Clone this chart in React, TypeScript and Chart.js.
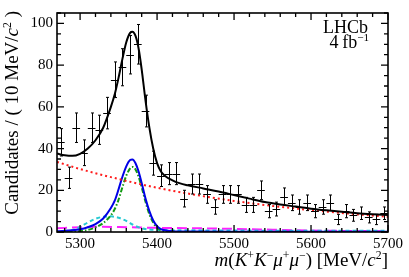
import React, { useEffect, useRef } from "react";
import { Chart, registerables } from "chart.js";
Chart.register(...registerables);

// ---- data ----
const massBins = [5275, 5285, 5295, 5305, 5315, 5325, 5335, 5345, 5355, 5365, 5375, 5385, 5395, 5405, 5415, 5425, 5435, 5445, 5455, 5465, 5475, 5485, 5495, 5505, 5515, 5525, 5535, 5545, 5555, 5565, 5575, 5585, 5595, 5605, 5615, 5625, 5635, 5645, 5655, 5665, 5675, 5685, 5695];
const candidates = [43, 26, 50, 38, 50, 49, 57, 73, 79, 85, 90, 58, 33, 27, 28, 28, 16, 23, 23, 18, 12, 18, 18, 18, 13, 13, 20, 10, 11, 17, 14, 12, 14, 10, 12, 14, 6, 10, 8, 9, 7, 6, 9];

const totalX = [5270, 5280, 5290, 5300, 5310, 5320, 5330, 5340, 5345, 5350, 5355, 5360, 5365, 5368, 5372, 5376, 5380, 5385, 5390, 5395, 5400, 5405, 5410, 5420, 5430, 5440, 5460, 5480, 5500, 5520, 5540, 5560, 5580, 5600, 5620, 5640, 5660, 5680, 5700];
const totalY = [37.6, 36.8, 36.5, 37.5, 40, 44, 50, 60, 66, 74, 83, 91, 95.5, 96, 94, 88, 78, 63, 50, 40, 33, 29, 27, 24.8, 23.3, 22.4, 20.9, 19.4, 17.7, 16, 14.4, 13.2, 12.2, 11.2, 10.4, 9.7, 9.0, 8.5, 8.1];

const bkgX = [5270, 5300, 5350, 5400, 5450, 5500, 5550, 5600, 5650, 5700];
const bkgY = [33.6, 30.2, 25.4, 21.2, 17.8, 14.9, 12.5, 10.5, 8.8, 7.3];

const sigX = [5270, 5290, 5300, 5310, 5320, 5330, 5340, 5345, 5350, 5355, 5360, 5365, 5368, 5372, 5376, 5380, 5385, 5390, 5395, 5400, 5405, 5410, 5420, 5450, 5500, 5700];
const sigY = [0.3, 0.8, 1.3, 2.3, 3.8, 6.5, 11.5, 15, 20.5, 26.5, 31.5, 34.5, 34.8, 33, 29, 23.5, 16, 10, 5.5, 2.8, 1.4, 0.8, 0.4, 0.2, 0.1, 0.1];

const greenX = [5270, 5300, 5310, 5320, 5330, 5340, 5345, 5350, 5355, 5360, 5365, 5368, 5372, 5376, 5380, 5385, 5390, 5395, 5400, 5405, 5410, 5420, 5450, 5700];
const greenY = [0, 0.4, 1, 2.2, 4.3, 8, 11, 15.5, 21.5, 27, 30.5, 31.2, 30, 26.5, 21.5, 14.5, 8.5, 4.5, 2, 0.9, 0.4, 0.1, 0, 0];

const cyanX = [5270, 5280, 5290, 5300, 5310, 5320, 5330, 5340, 5350, 5360, 5370, 5380, 5390, 5400, 5450, 5500, 5600, 5700];
const cyanY = [0.1, 0.3, 1, 2.5, 4.5, 6.3, 7.3, 7.5, 6.8, 5.3, 3.2, 1.8, 1.2, 1, 0.8, 0.7, 0.6, 0.6];

const magX = [5270, 5300, 5330, 5360, 5400, 5450, 5500, 5550, 5600, 5650, 5700];
const magY = [1.8, 2.3, 2.5, 2.3, 2.0, 1.8, 1.5, 1.1, 0.7, 0.5, 0.4];

const xTickValues = [5300, 5400, 5500, 5600, 5700];
const yTickValues = [0, 20, 40, 60, 80, 100];

const SERIF = "'Liberation Serif', 'Times New Roman', serif";

const pts = (xs: number[], ys: number[]) => xs.map((x, i) => ({ x, y: ys[i] }));

type Seg = { t: string; it?: boolean; sup?: boolean };

function segFont(s: Seg, size: number) {
  const sz = s.sup ? size * 0.62 : size;
  return `${s.it ? "italic " : ""}${sz}px ${SERIF}`;
}
function richWidth(ctx: CanvasRenderingContext2D, segs: Seg[], size: number) {
  let w = 0;
  for (const s of segs) {
    ctx.font = segFont(s, size);
    w += ctx.measureText(s.t).width;
  }
  return w;
}
function drawRichRight(ctx: CanvasRenderingContext2D, segs: Seg[], xr: number, y: number, size: number) {
  const w = richWidth(ctx, segs, size);
  let x = xr - w;
  ctx.textAlign = "left";
  ctx.textBaseline = "alphabetic";
  for (const s of segs) {
    ctx.font = segFont(s, size);
    ctx.fillText(s.t, x, s.sup ? y - size * 0.38 : y);
    x += ctx.measureText(s.t).width;
  }
}

const lhcbPlugin = {
  id: "lhcbDeco",
  afterDatasetDraw(chart: any, args: any) {
    if (args.meta._dataset.label !== "Data") return;
    const { ctx } = chart;
    const xs = chart.scales.x;
    const ys = chart.scales.y;
    ctx.save();
    ctx.strokeStyle = "#000";
    ctx.lineWidth = 1;
    ctx.beginPath();
    massBins.forEach((m, i) => {
      const n = candidates[i];
      const e = Math.sqrt(n);
      const px = Math.round(xs.getPixelForValue(m)) + 0.5;
      const py = Math.round(ys.getPixelForValue(n)) + 0.5;
      const y1 = ys.getPixelForValue(n + e);
      const y2 = ys.getPixelForValue(Math.max(0, n - e));
      ctx.moveTo(px, y1);
      ctx.lineTo(px, y2);
      ctx.moveTo(px - 1.5, y1);
      ctx.lineTo(px + 1.5, y1);
      ctx.moveTo(px - 1.5, y2);
      ctx.lineTo(px + 1.5, y2);
      ctx.moveTo(xs.getPixelForValue(m - 5), py);
      ctx.lineTo(xs.getPixelForValue(m + 5), py);
    });
    ctx.stroke();
    ctx.restore();
  },
  afterDraw(chart: any) {
    const { ctx, chartArea } = chart;
    const { left, right, top, bottom } = chartArea;
    const xs = chart.scales.x;
    const ys = chart.scales.y;
    ctx.save();
    ctx.strokeStyle = "#000";
    ctx.fillStyle = "#000";
    // ticks pointing inward
    ctx.lineWidth = 1.3;
    ctx.beginPath();
    for (let v = 5280; v <= 5700; v += 20) {
      const px = xs.getPixelForValue(v);
      const len = v % 100 === 0 ? 7 : 4;
      ctx.moveTo(px, bottom);
      ctx.lineTo(px, bottom - len);
      ctx.moveTo(px, top);
      ctx.lineTo(px, top + len);
    }
    for (let v = 0; v <= 105; v += 5) {
      const py = ys.getPixelForValue(v);
      const len = v % 20 === 0 ? 7 : 4;
      ctx.moveTo(left, py);
      ctx.lineTo(left + len, py);
      ctx.moveTo(right, py);
      ctx.lineTo(right - len, py);
    }
    ctx.stroke();
    // frame
    ctx.lineWidth = 1.6;
    ctx.strokeRect(left, top, right - left, bottom - top);

    // x title
    const titleSize = 19;
    drawRichRight(
      ctx,
      [
        { t: "m", it: true },
        { t: "(" },
        { t: "K", it: true },
        { t: "+", sup: true },
        { t: "K", it: true },
        { t: "\u2212", sup: true },
        { t: "\u03bc", it: true },
        { t: "+", sup: true },
        { t: "\u03bc", it: true },
        { t: "\u2212", sup: true },
        { t: ") [MeV/" },
        { t: "c", it: true },
        { t: "2", sup: true },
        { t: "]" },
      ],
      right,
      266,
      titleSize
    );

    // y title (rotated)
    ctx.save();
    ctx.translate(18, 11);
    ctx.rotate(-Math.PI / 2);
    drawRichRight(
      ctx,
      [
        { t: "Candidates / ( 10 MeV/" },
        { t: "c", it: true },
        { t: "2", sup: true },
        { t: " )" },
      ],
      0,
      0,
      titleSize
    );
    ctx.restore();

    // LHCb label
    drawRichRight(ctx, [{ t: "LHCb" }], 368, 33, 18);
    drawRichRight(ctx, [{ t: "4\u2009fb" }, { t: "\u22121", sup: true }], 369, 48, 18);
    ctx.restore();
  },
};

export default function App() {
  const ref = useRef<HTMLCanvasElement | null>(null);
  useEffect(() => {
    if (!ref.current) return;
    const line = (label: string, data: any, color: string, dash: number[], width: number, order: number) => ({
      type: "line" as const,
      label,
      data,
      borderColor: color,
      borderWidth: width,
      borderDash: dash,
      pointRadius: 0,
      fill: false,
      cubicInterpolationMode: "monotone" as const,
      order,
    });
    const chart = new Chart(ref.current, {
      type: "scatter",
      data: {
        datasets: [
          line("Total fit", pts(totalX, totalY), "#000000", [], 2, 0),
          {
            type: "scatter",
            label: "Data",
            data: pts(massBins, candidates),
            pointRadius: 0,
            showLine: false,
            order: 1,
          } as any,
          line("Combinatorial", pts(bkgX, bkgY), "#ff1a1a", [2, 3], 2, 2),
          line("Signal", pts(sigX, sigY), "#0000e6", [], 2, 3),
          line("Component", pts(greenX, greenY), "#129a12", [5, 2, 1.5, 2], 2, 4),
          line("Partially reco.", pts(cyanX, cyanY), "#27c9d2", [4, 3], 2, 5),
          line("Peaking bkg", pts(magX, magY), "#ff20ff", [10, 5], 2, 6),
        ],
      },
      options: {
        animation: false,
        responsive: false,
        devicePixelRatio: 1,
        events: [],
        layout: { padding: { top: 13, right: 21, left: 0, bottom: 0 } },
        plugins: { legend: { display: false }, tooltip: { enabled: false } },
        scales: {
          x: {
            type: "linear",
            min: 5270,
            max: 5700,
            grid: { display: false, drawTicks: false },
            border: { display: false },
            ticks: {
              font: { family: SERIF, size: 15 },
              color: "#000",
              padding: 3,
              maxRotation: 0,
              autoSkip: false,
              callback: (v: any) => String(v),
            },
            afterBuildTicks: (s: any) => {
              s.ticks = xTickValues.map((v) => ({ value: v }));
            },
            afterFit: (s: any) => {
              s.height = 45;
            },
          },
          y: {
            type: "linear",
            min: 0,
            max: 105,
            grid: { display: false, drawTicks: false },
            border: { display: false },
            ticks: {
              font: { family: SERIF, size: 15 },
              color: "#000",
              padding: 4,
              autoSkip: false,
              callback: (v: any) => String(v),
            },
            afterBuildTicks: (s: any) => {
              s.ticks = yTickValues.map((v) => ({ value: v }));
            },
            afterFit: (s: any) => {
              s.width = 57;
            },
          },
        },
      },
      plugins: [lhcbPlugin],
    } as any);
    return () => chart.destroy();
  }, []);
  return (
    <div style={{ position: "fixed", left: 0, top: 0, width: 409, height: 277, background: "#fff" }}>
      <canvas ref={ref} width={409} height={277} style={{ display: "block" }} />
    </div>
  );
}
